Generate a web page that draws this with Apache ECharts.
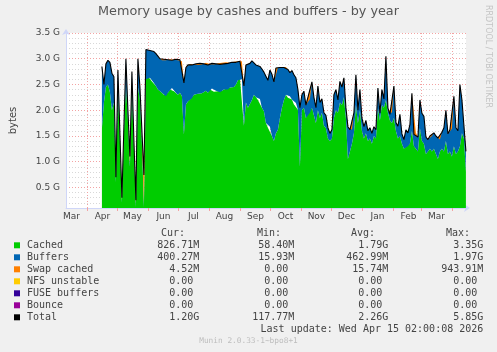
<!DOCTYPE html>
<html><head><meta charset="utf-8">
<script src="https://cdn.jsdelivr.net/npm/echarts@6.0.0/dist/echarts.min.js"></script>
<style>html,body{margin:0;padding:0;background:#f0f0f0}#c{width:497px;height:352px}</style>
</head><body><div id="c"></div>
<script>
const chartTitle = 'Memory usage by cashes and buffers - by year';
const yAxisName = 'bytes';
const watermark = 'RRDTOOL / TOBI OETIKER';
const versionText = 'Munin 2.0.33-1~bpo8+1';
const lastUpdate = 'Last update: Wed Apr 15 02:00:08 2026';

// x range and sampling (UTC)
const axisStart = [2025, 2, 11, 2];
const axisEnd = [2026, 3, 15, 2];
const firstSample = [2025, 3, 16];
const stepDays = 2;
const monthGrid = [[2025,3],[2025,4],[2025,5],[2025,6],[2025,7],[2025,8],[2025,9],[2025,10],[2025,11],[2026,0],[2026,1],[2026,2],[2026,3]];
const monthLabelPos = [[2025,2],[2025,3],[2025,4],[2025,5],[2025,6],[2025,7],[2025,8],[2025,9],[2025,10],[2025,11],[2026,0],[2026,1],[2026,2]];
const monthLabels = ['Mar','Apr','May','Jun','Jul','Aug','Sep','Oct','Nov','Dec','Jan','Feb','Mar'];

// y axis (G)
const yMin = 0.1, yMax = 3.5, yStep = 0.1;

// series values in G, one sample every 2 days from 2025-04-16
const cached = [
1.65,2.15,2.45,2.50,2.35,2.00,2.15,0.60,2.40,1.40,
0.20,1.55,2.50,1.80,0.90,2.40,1.25,0.12,2.45,2.20,
1.35,0.12,2.60,2.66,2.63,2.56,2.53,2.47,2.40,2.37,
2.34,2.30,2.27,2.34,2.40,2.43,2.37,2.34,2.30,2.34,
2.27,1.53,2.11,2.17,2.21,2.23,2.30,2.33,2.32,2.35,
2.33,2.36,2.38,2.34,2.40,2.42,2.36,2.38,2.37,2.35,
2.38,2.40,2.42,2.40,2.44,2.46,2.45,2.50,2.58,2.62,
2.60,1.70,2.15,2.05,2.12,2.20,2.30,2.25,2.20,2.22,
2.05,1.98,1.75,1.66,1.68,1.50,1.40,1.55,1.62,1.85,
2.05,2.20,2.30,2.24,2.27,2.21,2.11,2.14,2.01,0.90,
2.00,2.05,1.85,1.95,1.95,2.05,1.90,1.75,2.00,1.85,
1.95,1.70,1.65,1.45,1.40,1.45,1.85,2.00,1.95,2.15,
2.10,2.25,1.85,1.05,1.20,1.35,1.55,2.10,1.75,2.00,
1.60,1.45,1.55,1.40,1.45,1.35,1.50,1.45,2.04,1.80,
2.10,2.05,2.20,1.95,1.80,1.75,1.85,1.60,1.45,1.50,
1.35,1.25,1.30,1.30,1.35,1.60,1.30,1.25,1.20,1.65,
1.40,1.35,1.15,1.20,1.25,1.20,1.25,1.15,1.05,1.20,
1.25,1.20,1.40,1.15,1.20,1.10,1.30,1.15,1.20,1.30,
1.55,1.45,0.81];
const buffers = [
1.20,0.35,0.45,0.47,0.58,0.72,0.50,0.08,0.38,0.13,
0.05,0.13,0.50,0.18,0.08,0.35,0.12,0.07,0.55,0.23,
0.17,0.07,0.58,0.52,0.53,0.59,0.61,0.63,0.65,0.63,
0.63,0.69,0.70,0.64,0.59,0.54,0.61,0.65,0.67,0.64,
0.68,1.00,0.72,0.71,0.69,0.65,0.59,0.57,0.56,0.56,
0.56,0.54,0.54,0.54,0.50,0.49,0.53,0.52,0.54,0.54,
0.54,0.50,0.51,0.51,0.48,0.47,0.49,0.43,0.37,0.33,
0.35,0.77,0.73,0.85,0.79,0.76,0.62,0.63,0.67,0.63,
0.75,0.76,0.91,0.92,1.10,1.20,1.15,1.27,1.21,0.98,
0.78,0.63,0.54,0.55,0.46,0.56,0.58,0.49,0.39,1.15,
0.30,0.32,0.25,0.30,0.27,0.50,0.35,0.30,0.47,0.30,
0.27,0.25,0.25,0.21,0.15,0.17,0.45,0.40,0.25,0.41,
0.35,0.38,0.20,0.63,0.42,0.27,0.40,0.59,0.25,0.40,
0.25,0.23,0.25,0.20,0.21,0.20,0.18,0.17,0.39,0.14,
0.30,0.17,0.85,0.09,0.12,0.19,0.62,0.16,0.24,0.42,
0.19,0.18,0.32,0.26,0.37,0.73,0.23,0.31,0.28,0.55,
0.54,0.53,0.33,0.23,0.25,0.30,0.31,0.35,0.41,0.23,
0.32,0.46,0.60,0.39,0.42,0.54,0.97,0.51,0.40,1.20,
0.65,0.25,0.39];
const swapCached = [
0,0,0,0,0,0,0,0.02,0,0.02,
0.05,0.02,0,0.02,0.12,0,0.03,0.06,0,0.02,
0.08,0.55,0,0,0,0,0,0,0,0,
0,0,0,0,0,0,0,0,0,0,
0,0,0,0,0,0,0,0,0,0,
0,0,0,0,0,0,0,0,0,0,
0,0,0,0,0,0,0,0,0,0,
0,0,0,0,0,0,0,0,0,0,
0,0,0,0,0,0,0,0,0,0,
0,0,0,0,0,0,0,0,0,0,
0,0,0,0,0,0,0,0,0,0,
0,0,0,0,0,0,0,0,0,0,
0,0,0,0,0,0,0,0,0,0,
0,0,0,0,0,0,0,0,0,0,
0,0,0,0,0,0,0,0,0,0,
0,0,0,0,0,0,0,0,0,0,
0,0,0,0,0,0,0,0,0,0,
0,0,0,0,0,0,0,0,0,0,
0,0,0];
const total = [
2.85,2.50,2.90,2.97,2.93,2.72,2.65,0.70,2.78,1.55,
0.30,1.70,3.00,2.00,1.10,2.75,1.40,0.25,3.00,2.45,
1.60,0.74,3.18,3.18,3.16,3.15,3.14,3.10,3.05,3.00,
2.97,2.99,2.97,2.98,2.99,2.97,2.98,2.99,2.97,2.98,
2.95,2.53,2.83,2.88,2.90,2.88,2.89,2.90,2.88,2.91,
2.89,2.90,2.92,2.88,2.90,2.91,2.89,2.90,2.91,2.89,
2.92,2.90,2.93,2.91,2.92,2.93,2.94,2.93,2.95,2.95,
2.95,2.47,2.88,2.90,2.91,2.96,2.92,2.88,2.87,2.85,
2.80,2.74,2.66,2.58,2.78,2.70,2.55,2.82,2.83,2.83,
2.83,2.83,2.84,2.79,2.73,2.77,2.69,2.63,2.40,2.05,
2.30,2.37,2.10,2.25,2.22,2.55,2.25,2.05,2.47,2.15,
2.22,1.95,1.90,1.66,1.55,1.62,2.30,2.40,2.20,2.56,
2.45,2.63,2.05,1.68,1.62,1.62,1.95,2.69,2.00,2.40,
1.85,1.68,1.80,1.60,1.66,1.55,1.68,1.62,2.43,1.94,
2.40,2.22,3.05,2.04,1.92,1.94,2.47,1.76,1.69,1.92,
1.54,1.43,1.62,1.56,1.72,2.33,1.53,1.56,1.48,2.20,
1.94,1.88,1.48,1.43,1.50,1.50,1.56,1.50,1.46,1.43,
1.57,1.66,2.00,1.54,1.62,1.64,2.27,1.66,1.60,2.50,
2.20,1.70,1.20];

// legend table
const legendNames = ['Cached','Buffers','Swap cached','NFS unstable','FUSE buffers','Bounce','Total'];
const legendColors = ['#00cc00','#0066b3','#ff8000','#ffcc00','#330099','#990099','#000000'];
const statHeaders = ['Cur:','Min:','Avg:','Max:'];
const statCur = ['826.71M','400.27M','4.52M','0.00','0.00','0.00','1.20G'];
const statMin = ['58.40M','15.93M','0.00','0.00','0.00','0.00','117.77M'];
const statAvg = ['1.79G','462.99M','15.74M','0.00','0.00','0.00','2.26G'];
const statMax = ['3.35G','1.97G','943.91M','0.00','0.00','0.00','5.85G'];

const DAY = 86400000;
const t0 = Date.UTC(firstSample[0], firstSample[1], firstSample[2]);
const times = cached.map((_, i) => t0 + i * stepDays * DAY);
const pairs = arr => arr.map((v, i) => [times[i], v]);
const gridTicks = monthGrid.map(m => Date.UTC(m[0], m[1], 1));
const labelTicks = monthLabelPos.map(m => Date.UTC(m[0], m[1], 16, 12));
const xMin = Date.UTC(axisStart[0], axisStart[1], axisStart[2], axisStart[3]);
const xMax = Date.UTC(axisEnd[0], axisEnd[1], axisEnd[2], axisEnd[3]);

const sansFont = 'DejaVu Sans';
const monoFont = 'DejaVu Sans Mono';
const textCol = '#444';
const axisCol = '#cfd6f8';
const majorGrid = '#f3a3a3';
const minorGrid = '#d8d8d8';

const graphics = [];
const rowY0 = 245.3, rowPitch = 12, headerY = 233.3;
const colRight = [199.3, 294.3, 388.3, 483.3];
const headRight = [185, 281, 375, 470];
const stats = [statCur, statMin, statAvg, statMax];
function txt(str, x, y, align, opts) {
  opts = opts || {};
  return {type: 'text', x: x, y: y, rotation: opts.rotation || 0, silent: true,
    style: {text: str, fill: opts.fill || textCol, font: (opts.size || 10) + 'px "' + (opts.family || monoFont) + '"',
      align: align, textAlign: align, verticalAlign: opts.va || 'middle', textVerticalAlign: opts.va || 'middle'}};
}
statHeaders.forEach((h, c) => graphics.push(txt(h, headRight[c], headerY, 'right')));
legendNames.forEach((name, r) => {
  const y = rowY0 + r * rowPitch;
  graphics.push({type: 'rect', silent: true, shape: {x: 14, y: y - 3, width: 6, height: 6}, style: {fill: legendColors[r]}});
  graphics.push(txt(name, 27, y, 'left'));
  stats.forEach((col, c) => {
    const s = col[r];
    const hasUnit = /[A-Za-z]$/.test(s);
    graphics.push(txt(s, colRight[c] - (hasUnit ? 0 : 6), y, 'right'));
  });
});
graphics.push(txt(lastUpdate, 483.3, rowY0 + 7 * rowPitch, 'right'));
graphics.push(txt(versionText, 248.5, 341, 'center', {size: 7.8, fill: '#bdbdbd'}));
graphics.push(txt(watermark, 492, 5, 'left', {size: 8, fill: '#c4c4c4', family: sansFont, va: 'top', rotation: -Math.PI / 2}));

function areaSeries(k, arr) {
  return {name: legendNames[k], type: 'line', stack: 'mem', xAxisIndex: 0,
    data: pairs(arr), symbol: 'none', lineStyle: {width: 0},
    areaStyle: {color: legendColors[k], opacity: 1}, itemStyle: {color: legendColors[k]}};
}

const chart = echarts.init(document.getElementById('c'), null, {renderer: 'canvas'});
chart.setOption({
  animation: false,
  useUTC: true,
  backgroundColor: '#f0f0f0',
  title: {text: chartTitle, left: 'center', top: 5, padding: 0,
    textStyle: {fontFamily: sansFont, fontSize: 12.8, fontWeight: 'normal', color: '#555'}},
  grid: {left: 66, right: 31, top: 33, bottom: 144, show: true, backgroundColor: '#ffffff', borderWidth: 0},
  xAxis: [
    { // data axis (time) - carries the series
      type: 'time', min: xMin, max: xMax, position: 'bottom',
      axisLine: {show: false}, axisTick: {show: false}, axisLabel: {show: false},
      splitLine: {show: false}, minorTick: {show: false}
    },
    { // decoration axis: month grid lines and mid-month labels
      type: 'value', min: xMin, max: xMax, position: 'bottom',
      axisLine: {show: true, onZero: false, lineStyle: {color: axisCol, width: 1}, symbol: ['none', 'arrow'], symbolSize: [6, 6], symbolOffset: [0, 4]},
      axisTick: {show: true, length: 3, customValues: gridTicks, lineStyle: {color: majorGrid}},
      axisLabel: {customValues: labelTicks, margin: 4, color: textCol, fontFamily: sansFont, fontSize: 9,
        formatter: v => { const k = labelTicks.indexOf(v); return k >= 0 ? monthLabels[k] : ''; }},
      splitLine: {show: true, lineStyle: {color: majorGrid, type: [1, 2], width: 1}},
      minorTick: {show: false}
    }
  ],
  yAxis: {
    type: 'value', min: yMin, max: yMax, interval: yStep,
    name: yAxisName, nameLocation: 'middle', nameGap: 48, nameRotate: 90,
    nameTextStyle: {fontFamily: sansFont, fontSize: 10, color: textCol},
    axisLine: {show: true, onZero: false, lineStyle: {color: axisCol, width: 1}, symbol: ['none', 'arrow'], symbolSize: [6, 6], symbolOffset: [0, 4]},
    axisTick: {show: false},
    axisLabel: {margin: 6, color: textCol, fontFamily: sansFont, fontSize: 9,
      formatter: v => (Math.round(v * 10) % 5 === 0 ? v.toFixed(1) + ' G' : '')},
    splitLine: {show: true, lineStyle: {color: [minorGrid, minorGrid, minorGrid, minorGrid, majorGrid], type: [1, 2], width: 1}}
  },
  series: [
    areaSeries(0, cached),
    areaSeries(1, buffers),
    areaSeries(2, swapCached),
    {name: legendNames[6], type: 'line', xAxisIndex: 0, data: pairs(total), symbol: 'none', z: 5, lineStyle: {width: 1.1, color: legendColors[6]}, itemStyle: {color: legendColors[6]}}
  ],
  graphic: graphics
});
</script></body></html>
